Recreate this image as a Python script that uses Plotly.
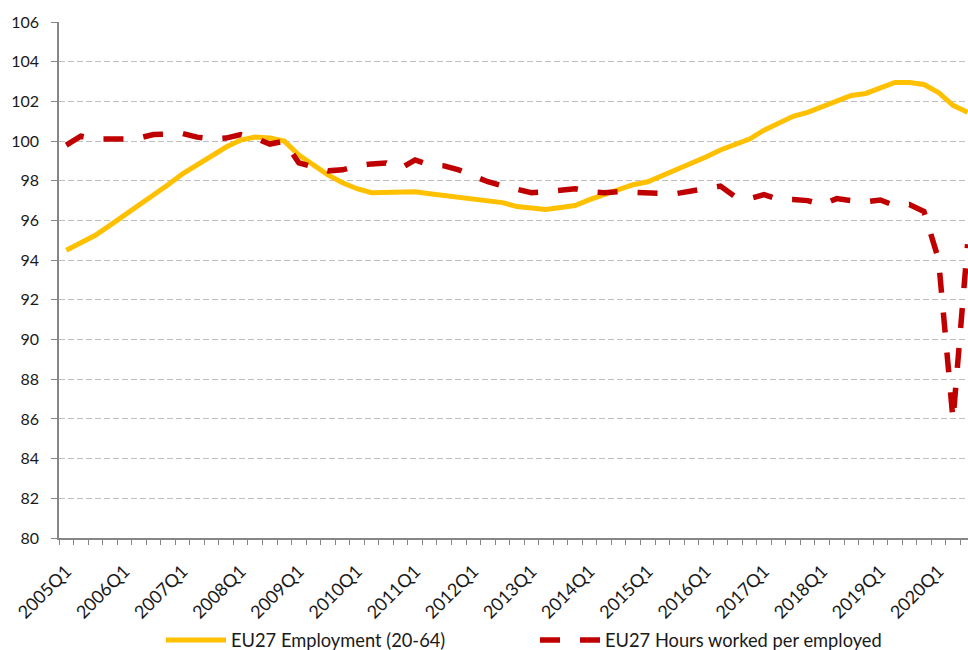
import plotly.graph_objects as go

years = list(range(2005, 2021))
quarters = [f"{y}Q{q}" for y in years for q in (1, 2, 3, 4)][:63]

employment = [
    94.5, 94.85, 95.25, 95.75, 96.25, 96.8, 97.3, 97.8,
    98.35, 98.8, 99.25, 99.7, 100.05, 100.2, 100.15, 100.0,
    99.3, 98.8, 98.3, 97.9, 97.6, 97.4, 97.4, 97.4,
    97.45, 97.35, 97.25, 97.15, 97.05, 97.0, 96.9, 96.7,
    96.6, 96.55, 96.65, 96.75, 97.05, 97.3, 97.55, 97.8,
    97.95, 98.25, 98.55, 98.85, 99.2, 99.55, 99.8, 100.1,
    100.55, 100.9, 101.25, 101.45, 101.75, 102.05, 102.3, 102.4,
    102.7, 102.95, 102.95, 102.85, 102.45, 101.8, 101.45,
]

hours = [
    99.8, 100.25, 100.1, 100.08, 100.1, 100.15, 100.33, 100.35,
    100.38, 100.2, 100.1, 100.15, 100.33, 100.15, 99.85, 100.0,
    98.9, 98.7, 98.5, 98.55, 98.75, 98.85, 98.9, 98.62,
    99.05, 98.8, 98.75, 98.55, 98.25, 97.95, 97.75, 97.55,
    97.4, 97.45, 97.5, 97.6, 97.45, 97.4, 97.45, 97.4,
    97.36, 97.36, 97.36, 97.5, 97.65, 97.73, 97.2, 97.1,
    97.3, 97.06, 97.06, 97.0, 96.8, 97.1, 97.0, 96.94,
    97.03, 96.75, 96.8, 96.45, 94.05, 85.95, 94.8,
]

y_ticks = list(range(80, 107, 2))
tick_text = [q if q.endswith("Q1") else "" for q in quarters]

FONT = "Lato"
TXT = "#1a1a1a"
AXIS = "#868686"

fig = go.Figure()
fig.add_trace(go.Scatter(
    x=quarters, y=employment, mode="lines",
    name="EU27 Employment (20-64)",
    line=dict(color="#FFC000", width=5),
    legend="legend",
))
fig.add_trace(go.Scatter(
    x=quarters, y=hours, mode="lines",
    name="EU27 Hours worked per employed",
    line=dict(color="#C00000", width=5.5, dash="20px,20px"),
    legend="legend2",
))

fig.update_layout(
    width=968, height=650,
    margin=dict(l=59, r=0, t=22, b=112, autoexpand=False),
    paper_bgcolor="white", plot_bgcolor="white",
    font=dict(family=FONT, size=15, color=TXT),
    xaxis=dict(
        type="category", categoryorder="array", categoryarray=quarters,
        range=[-0.5, 62.03],
        tickmode="array", tickvals=quarters, ticktext=tick_text,
        tickangle=-45, ticks="outside", ticklen=5, tickcolor=AXIS, tickwidth=1,
        tickson="boundaries", ticklabelstandoff=14,
        showline=True, linecolor=AXIS, linewidth=1.5,
        showgrid=False, zeroline=False, automargin=False,
        tickfont=dict(family=FONT, size=18, color=TXT),
    ),
    yaxis=dict(
        range=[80, 106], tickmode="array", tickvals=y_ticks,
        ticks="outside", ticklen=6, tickcolor=AXIS, tickwidth=1,
        showline=True, linecolor=AXIS, linewidth=1.5,
        showgrid=True, gridcolor="#BFBFBF", gridwidth=1, griddash="6px,3px",
        zeroline=False, automargin=False, ticklabelstandoff=9,
        tickfont=dict(family=FONT, size=16, color=TXT),
    ),
    legend=dict(
        orientation="h", x=102 / 909, xanchor="left",
        y=-0.1977, yanchor="middle", itemwidth=60,
        font=dict(family=FONT, size=18.3, color=TXT), bgcolor="rgba(0,0,0,0)",
    ),
    legend2=dict(
        orientation="h", x=476 / 909, xanchor="left",
        y=-0.1977, yanchor="middle", itemwidth=60,
        font=dict(family=FONT, size=18.3, color=TXT), bgcolor="rgba(0,0,0,0)",
    ),
    showlegend=True,
)

fig.write_html(
    "out.html",
    config={"displayModeBar": False},
    post_script=(
        "document.body.style.margin='0';"
        "document.documentElement.style.overflow='hidden';"
    ),
)
